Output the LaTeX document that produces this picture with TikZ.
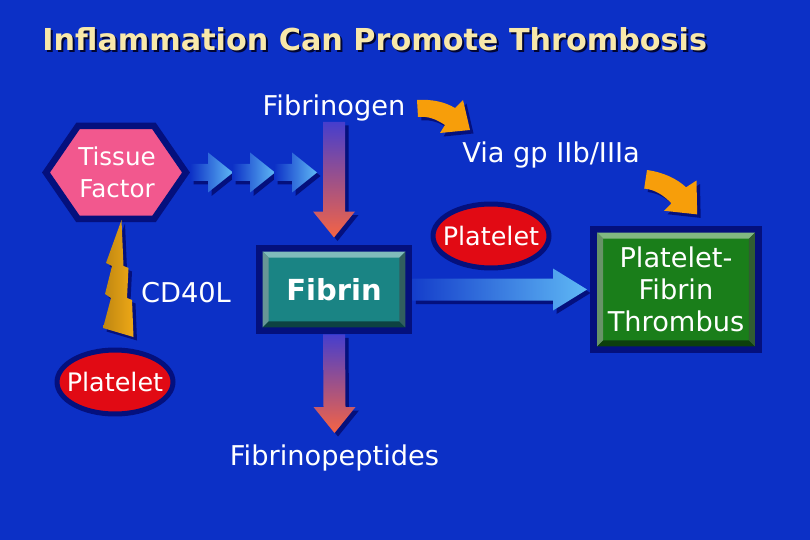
\documentclass[tikz,border=0pt]{standalone}
\usepackage{fontspec}
\setmainfont{DejaVu Sans}
\usetikzlibrary{shapes.geometric}
\usetikzlibrary{shadows}
\usetikzlibrary{calc}

\definecolor{bgblue}{RGB}{12,48,198}
\definecolor{navy}{RGB}{4,16,125}
\definecolor{cream}{RGB}{248,232,170}
\definecolor{pinkTF}{RGB}{242,88,142}
\definecolor{redPL}{RGB}{225,10,20}
\definecolor{orangeAR}{RGB}{247,158,10}
\definecolor{skyAR}{RGB}{95,185,245}
\definecolor{redAR}{RGB}{245,100,68}
\definecolor{arrowtop}{RGB}{70,62,205}
\definecolor{tealFB}{RGB}{26,132,132}
\definecolor{greenTH}{RGB}{26,126,26}
\definecolor{goldCD}{RGB}{238,168,22}

\tikzset{
  lbl/.style={text=white, inner sep=0pt, font=\fontsize{15.5}{18}\selectfont},
  titletext/.style={anchor=base west, inner sep=0pt, font=\bfseries\fontsize{17.2}{20}\selectfont},
  platelet/.style={ellipse, fill=redPL, draw=navy, line width=0.1cm, inner sep=0pt,
    minimum width=2.32cm, minimum height=1.28cm, text=white, font=\fontsize{14.5}{17}\selectfont},
  bevelbox/.style={rectangle, fill=#1, draw=navy, line width=0.14cm, outer sep=0pt,
    text=white, align=center},
  navyshadow/.style={drop shadow={shadow xshift=0.07cm, shadow yshift=-0.07cm, fill=navy, opacity=1}},
  bentarrow/.pic={
    \fill[orangeAR, navyshadow] (0,0) .. controls (15,-1) and (28,2) .. (38,8) -- (46,0) -- (53,30)
      -- (23,33) -- (28,25) .. controls (19,19) and (11,16) .. (1,17) -- cycle;
  }
}

% bevel edges of a box node: name, light colour, dark colour
\newcommand{\bevel}[3]{%
  \fill[#2] ($(#1.north west)+(3.5,3.5)$) -- ($(#1.north east)+(-3.5,3.5)$)
    -- ($(#1.north east)+(-9.5,9.5)$) -- ($(#1.north west)+(9.5,9.5)$) -- cycle;
  \fill[#2!80!black] ($(#1.north west)+(3.5,3.5)$) -- ($(#1.north west)+(9.5,9.5)$)
    -- ($(#1.south west)+(9.5,-9.5)$) -- ($(#1.south west)+(3.5,-3.5)$) -- cycle;
  \fill[#3] ($(#1.south west)+(3.5,-3.5)$) -- ($(#1.south west)+(9.5,-9.5)$)
    -- ($(#1.south east)+(-9.5,-9.5)$) -- ($(#1.south east)+(-3.5,-3.5)$) -- cycle;
  \fill[#3!85!white] ($(#1.north east)+(-3.5,3.5)$) -- ($(#1.south east)+(-3.5,-3.5)$)
    -- ($(#1.south east)+(-9.5,-9.5)$) -- ($(#1.north east)+(-9.5,9.5)$) -- cycle;
}

% shaded block arrow pointing down: top of shaft, tip
\newcommand{\downblock}[2]{%
  \shade[navyshadow, top color=arrowtop, bottom color=redAR]
    ($(#1)+(-11,0)$) -- ($(#1)+(11,0)$) -- ($(#2)+(11,-26)$) -- ($(#2)+(21,-26)$)
    -- (#2) -- ($(#2)+(-21,-26)$) -- ($(#2)+(-11,-26)$) -- cycle;
}

\begin{document}
\begin{tikzpicture}[x=0.02cm, y=-0.02cm]
    % Background
    \fill[bgblue] (0,0) rectangle (810,540);
    \useasboundingbox (0,0) rectangle (810,540);

    % Title
    \node[titletext, text=navy!40!black] (titleshadow) at (44,53) {Inflammation Can Promote Thrombosis};
    \node[titletext, text=cream] (title) at (42,51) {Inflammation Can Promote Thrombosis};

    % Fibrin and Thrombus boxes
    \node[bevelbox=tealFB, minimum width=3cm, minimum height=1.66cm,
          font=\bfseries\fontsize{16.5}{20}\selectfont] (fib) at (334,289.5) {Fibrin};
    \bevel{fib}{tealFB!55!white}{tealFB!50!black}
    \node[bevelbox=greenTH, minimum width=3.3cm, minimum height=2.42cm,
          font=\fontsize{15.5}{18.4}\selectfont] (th) at (676,289.5) {Platelet-\\Fibrin\\Thrombus};
    \bevel{th}{greenTH!55!white}{greenTH!50!black}

    % Fibrinogen
    \node[lbl, anchor=base] (fgn) at (334,116) {Fibrinogen};
    \pic (bendA) at ($(fgn.base)+(83,-16)$) {bentarrow};
    \coordinate (a1s) at ($(fgn.base)+(0,6)$);
    \coordinate (a1e) at ($(fib.north)+(0,-10.5)$);
    \downblock{a1s}{a1e}

    % Via gp IIb/IIIa
    \node[lbl, anchor=base] (via) at (551,163) {Via gp IIb/IIIa};
    \pic[rotate=-12, scale=1.1] (bendB) at ($(via.base)+(96,7)$) {bentarrow};

    % Tissue Factor
    \coordinate (tfc) at (116,172.5);
    \filldraw[fill=pinkTF, draw=navy, line width=0.13cm, line join=miter]
      ($(tfc)+(-70,0)$) -- ($(tfc)+(-38,-46.5)$) -- ($(tfc)+(38,-46.5)$)
      -- ($(tfc)+(70,0)$) -- ($(tfc)+(38,46.5)$) -- ($(tfc)+(-38,46.5)$) -- cycle;
    \node[lbl, font=\fontsize{14}{18}\selectfont, align=center] (tf) at ($(tfc)+(1,0)$) {Tissue\\Factor};
    \foreach \i in {0,1,2}
      \shade[navyshadow, left color=bgblue, right color=skyAR]
        ($(tfc)+(74+42*\i,-8.5)$) -- ++(18,0) -- ++(0,-11.5) -- ++(25,20)
        -- ++(-25,20) -- ++(0,-11.5) -- ++(-18,0) -- cycle;

    % CD40L bolt
    \begin{scope}[shift={(tfc)}]
      \shade[navyshadow, left color=goldCD!80!black, middle color=goldCD!70!yellow, right color=goldCD]
        (5.5,47.5) -- (7.5,93.5) -- (12.5,95.5) -- (11,125.5) -- (16,127.5) -- (17.5,164.5)
        -- (-13,155.5) -- (-5,125.5) -- (-11,121.5) -- (-4,93.5) -- (-10,90.5) -- cycle;
    \end{scope}
    \node[lbl, anchor=base] (cd) at (186,302) {CD40L};

    % Platelets
    \node[platelet] (plA) at (491,236) {\makebox[0pt]{Platelet}};
    \node[platelet] (plB) at (115,382) {\makebox[0pt]{Platelet}};

    % Fibrin -> Thrombus
    \coordinate (a3s) at ($(fib.east)+(3.5,0)$);
    \coordinate (a3e) at ($(th.west)+(-6.5,0)$);
    \shade[navyshadow, left color=bgblue!90!skyAR, right color=skyAR]
      ($(a3s)+(0,-11)$) -- ($(a3e)+(-34,-11)$) -- ($(a3e)+(-34,-21)$) -- (a3e)
      -- ($(a3e)+(-34,21)$) -- ($(a3e)+(-34,11)$) -- ($(a3s)+(0,11)$) -- cycle;

    % Fibrinopeptides
    \node[lbl, anchor=base] (fpep) at (334.5,465) {Fibrinopeptides};
    \coordinate (a2s) at ($(fib.south)+(0,3.5)$);
    \coordinate (a2e) at ($(fpep.base)+(0,-32)$);
    \downblock{a2s}{a2e}
\end{tikzpicture}
\end{document}
